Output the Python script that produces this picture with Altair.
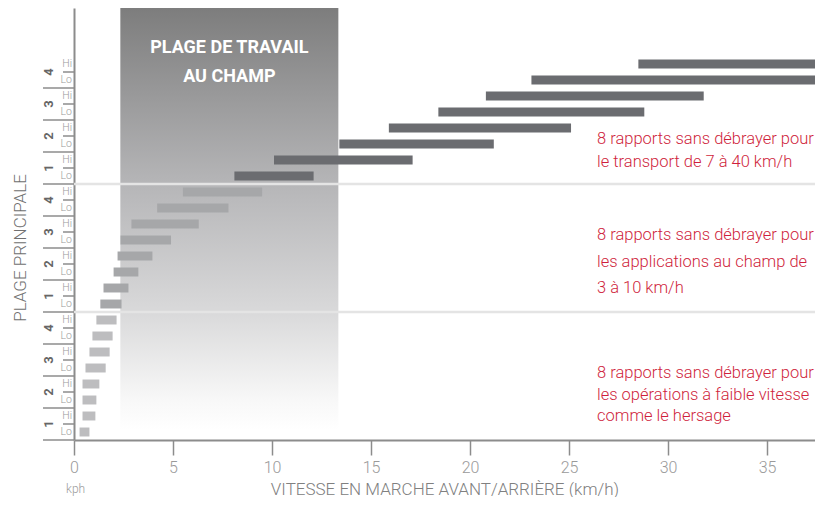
import altair as alt
import pandas as pd

# ---- data -------------------------------------------------------------
groupe = ["lent"] * 8 + ["champ"] * 8 + ["transport"] * 8
gamme = [1, 1, 2, 2, 3, 3, 4, 4] * 3
rapport = ["Lo", "Hi"] * 12
v_min = [0.28, 0.43, 0.43, 0.43, 0.58, 0.78, 0.93, 1.13,
         1.33, 1.49, 2.00, 2.20, 2.35, 2.90, 4.20, 5.50,
         8.10, 10.1, 13.4, 15.9, 18.4, 20.8, 23.1, 28.5]
v_max = [0.78, 1.08, 1.13, 1.28, 1.60, 1.80, 1.95, 2.15,
         2.40, 2.75, 3.25, 3.96, 4.90, 6.30, 7.80, 9.50,
         12.1, 17.1, 21.2, 25.1, 28.8, 31.8, 37.6, 40.0]
couleurs_groupe = ["lent", "champ", "transport"]
couleurs = ["#bdbdbf", "#a6a7a9", "#6b6c70"]

zone_champ = [2.34, 13.35]          # plage de travail au champ (km/h)
x_ticks = [0, 5, 10, 15, 20, 25, 30, 35]
x_domain = [0, 37.42]
n_rows = 24
y_domain = [0, 27]

textes = [
    "8 rapports sans débrayer pour\nle transport de 7 à 40 km/h",
    "8 rapports sans débrayer pour\nles applications au champ de\n3 à 10 km/h",
    "8 rapports sans débrayer pour\nles opérations à faible vitesse\ncomme le hersage",
]

FONT = "Roboto"
RED = "#cf1f3d"

rows = list(range(n_rows))
df = pd.DataFrame({"row": rows, "groupe": groupe, "gamme": gamme,
                   "rapport": rapport, "vmin": v_min, "vmax": v_max})

W, H = 741, 432

xs = alt.Scale(domain=x_domain, nice=False, zero=False)
ys = alt.Scale(domain=y_domain, nice=False, zero=False)

x_axis = alt.Axis(values=x_ticks, grid=False, domainColor="#8c8c8c", domainWidth=2,
                  tickColor="#8c8c8c", tickSize=15, tickWidth=1.5, labelColor="#9a9a9a",
                  labelFont=FONT, labelFontSize=16, labelFontWeight=300, labelPadding=4,
                  labelFlush=False,
                  title="VITESSE EN MARCHE AVANT/ARRIÈRE (km/h)", titleFont=FONT,
                  titleFontSize=17, titleFontWeight=300, titleColor="#808080",
                  titlePadding=6)
y_axis = alt.Axis(grid=False, ticks=False, labels=False,
                  domainColor="#8c8c8c", domainWidth=2, title=None)


def X(field):
    return alt.X(field, scale=xs, axis=x_axis)


def Y(field):
    return alt.Y(field, scale=ys, axis=y_axis)


# shaded field zone with gradient
zone = alt.Chart(pd.DataFrame({"a": [zone_champ[0]], "b": [zone_champ[1]],
                               "y0": [0.6], "y1": [y_domain[1]]})).mark_rect(
    color={"gradient": "linear", "x1": 0, "x2": 0, "y1": 0, "y2": 1,
           "stops": [{"offset": 0, "color": "#7d7d7d"},
                     {"offset": 0.42, "color": "#b6b6b8"},
                     {"offset": 0.72, "color": "#d9d9da"},
                     {"offset": 0.93, "color": "#f8f8f8"},
                     {"offset": 1, "color": "#ffffff"}]}
).encode(x=X("a:Q"), x2="b:Q", y=Y("y0:Q"), y2="y1:Q")

zone_text = alt.Chart(pd.DataFrame({"x": [sum(zone_champ) / 2]})).mark_text(
    text=["PLAGE DE TRAVAIL", "AU CHAMP"], font=FONT, fontSize=18, fontWeight="bold",
    color="white", align="center", baseline="middle", lineHeight=29
).encode(x=X("x:Q"), y=alt.value(40))

separateurs = alt.Chart(pd.DataFrame({"y": [8, 16]})).mark_rule(
    color="#e4e4e4", strokeWidth=2.5
).encode(y=Y("y:Q"))

bars = alt.Chart(df).transform_calculate(
    y0="datum.row + 0.5 - 0.28", y1="datum.row + 0.5 + 0.28"
).mark_rect(clip=True).encode(
    x=X("vmin:Q"), x2="vmax:Q", y=Y("y0:Q"), y2="y1:Q",
    color=alt.Color("groupe:N", scale=alt.Scale(domain=couleurs_groupe, range=couleurs),
                    legend=None),
)

# Hi / Lo labels of the y axis
hilo = alt.Chart(df).transform_calculate(yc="datum.row + 0.5").mark_text(
    font=FONT, fontSize=10.5, fontWeight=300, color="#9a9a9a", align="right",
    baseline="middle"
).encode(y=Y("yc:Q"), x=alt.value(-2), text="rapport:N")

short_ticks = alt.Chart(pd.DataFrame({"y": list(range(1, n_rows, 2))})).mark_rule(
    color="#8c8c8c", strokeWidth=1.5
).encode(y=Y("y:Q"), x=alt.value(-11), x2=alt.value(0))

long_ticks = alt.Chart(pd.DataFrame({"y": list(range(0, n_rows, 2))})).mark_rule(
    color="#8c8c8c", strokeWidth=1.5
).encode(y=Y("y:Q"), x=alt.value(-31), x2=alt.value(0))

gamme_df = pd.DataFrame({"y": [r + 1 for r in range(0, n_rows, 2)],
                         "g": [str(g) for g in gamme[::2]]})
gamme_labels = alt.Chart(gamme_df).mark_text(
    angle=270, font=FONT, fontSize=13, fontWeight="bold", color="#666666",
    align="center", baseline="middle"
).encode(y=Y("y:Q"), x=alt.value(-25), text="g:N")

y_title = alt.Chart(pd.DataFrame({"t": ["PLAGE PRINCIPALE"]})).mark_text(
    angle=270, font=FONT, fontSize=17, fontWeight=300, color="#707070",
    align="center", baseline="middle"
).encode(x=alt.value(-53), y=alt.value(240), text="t:N")

kph = alt.Chart(pd.DataFrame({"t": ["kph"]})).mark_text(
    font=FONT, fontSize=12, fontWeight=300, color="#9a9a9a", align="left",
    baseline="alphabetic"
).encode(x=alt.value(-8), y=alt.value(485), text="t:N")

red_layers = []
for txt, ypix, lh in zip(textes, [123, 219, 357], [23, 26.5, 21.5]):
    red_layers.append(
        alt.Chart(pd.DataFrame({"t": [txt]})).mark_text(
            text=txt.split("\n"), font=FONT, fontSize=16.5, fontWeight=300, color=RED,
            align="left", baseline="top", lineHeight=lh
        ).encode(x=alt.value(523), y=alt.value(ypix))
    )

chart = alt.layer(
    zone, zone_text, separateurs, bars, hilo, short_ticks, long_ticks, gamme_labels,
    y_title, kph, *red_layers
).properties(
    width=W, height=H,
    autosize=alt.AutoSizeParams(type="none"),
    padding={"left": 66, "right": 0, "top": 0, "bottom": 57},
    background="white",
).configure_view(stroke=None)

chart.save("out.html", embed_options={"renderer": "svg", "actions": False})
